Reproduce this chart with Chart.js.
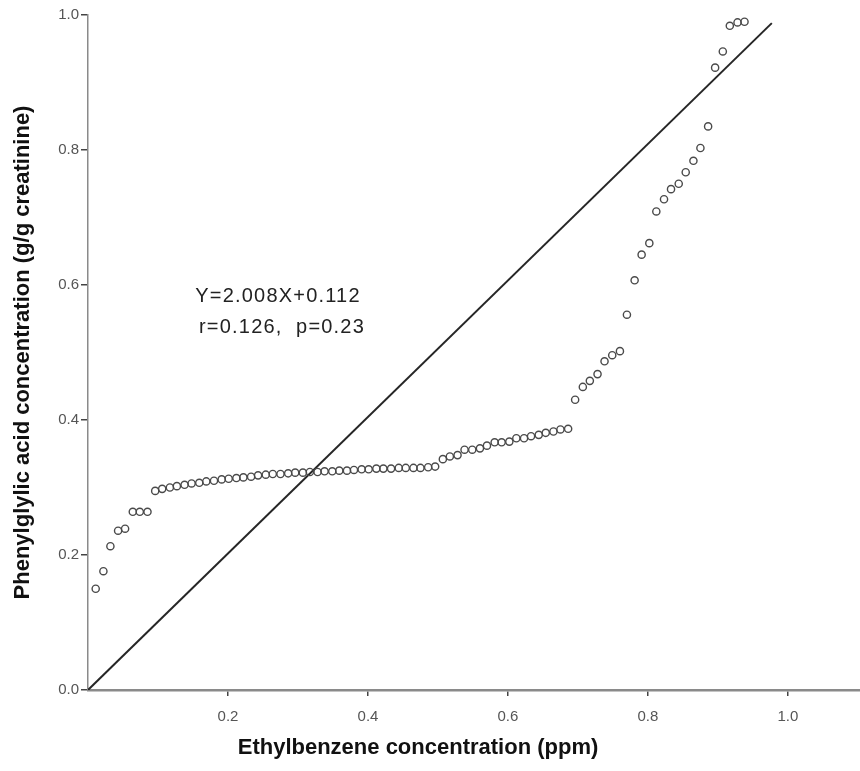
<!DOCTYPE html>
<html><head><meta charset="utf-8">
<script src="https://cdn.jsdelivr.net/npm/chart.js@4/dist/chart.umd.min.js"></script>
<style>html,body{margin:0;padding:0;background:#fff}canvas{display:block}</style>
</head><body>
<canvas id="c" width="860" height="771"></canvas>
<script>
// Ethylbenzene concentration (ppm) for each observation
const ethylbenzene = [0.011,0.022,0.032,0.043,0.053,0.064,0.074,0.085,0.096,0.106,
  0.117,0.127,0.138,0.148,0.159,0.169,0.180,0.191,0.201,0.212,
  0.222,0.233,0.243,0.254,0.264,0.275,0.286,0.296,0.307,0.317,
  0.328,0.338,0.349,0.359,0.370,0.380,0.391,0.401,0.412,0.422,
  0.433,0.444,0.454,0.465,0.475,0.486,0.496,0.507,0.517,0.528,
  0.538,0.549,0.560,0.570,0.581,0.591,0.602,0.612,0.623,0.633,
  0.644,0.654,0.665,0.675,0.686,0.696,0.707,0.717,0.728,0.738,
  0.749,0.760,0.770,0.781,0.791,0.802,0.812,0.823,0.833,0.844,
  0.854,0.865,0.875,0.886,0.896,0.907,0.917,0.928,0.938];
// Phenylglylic acid concentration (g/g creatinine)
const phenylglylic = [0.150,0.176,0.213,0.236,0.239,0.264,0.264,0.264,0.295,0.298,
  0.300,0.302,0.304,0.306,0.307,0.309,0.310,0.312,0.313,0.314,
  0.315,0.316,0.318,0.319,0.320,0.320,0.321,0.322,0.322,0.323,
  0.323,0.324,0.324,0.325,0.325,0.326,0.327,0.327,0.328,0.328,
  0.328,0.329,0.329,0.329,0.329,0.330,0.331,0.342,0.346,0.348,
  0.356,0.356,0.358,0.362,0.367,0.367,0.368,0.373,0.373,0.376,
  0.378,0.381,0.383,0.386,0.387,0.430,0.449,0.458,0.468,0.487,
  0.496,0.502,0.556,0.607,0.645,0.662,0.709,0.727,0.742,0.750,
  0.767,0.784,0.803,0.835,0.922,0.946,0.984,0.989,0.990];
// Reference line end points
const lineX = [0, 0.977];
const lineY = [0, 0.988];
// Tick labels
const xTicks = [0.2, 0.4, 0.6, 0.8, 1.0];
const yTicks = [0.0, 0.2, 0.4, 0.6, 0.8, 1.0];
const xTitle = 'Ethylbenzene concentration (ppm)';
const yTitle = 'Phenylglylic acid concentration (g/g creatinine)';
const equationLines = ['Y=2.008X+0.112', 'r=0.126,  p=0.23'];

const FONT = '"Liberation Sans", Arial, sans-serif';

const textPlugin = {
  id: 'texts',
  afterDraw(chart) {
    const ctx = chart.ctx;
    ctx.save();
    ctx.fillStyle = '#222';
    ctx.textAlign = 'center';
    ctx.textBaseline = 'middle';
    ctx.font = '20px ' + FONT;
    try { ctx.letterSpacing = '1.2px'; } catch (e) {}
    ctx.fillText(equationLines[0], 278, 296);
    ctx.fillText(equationLines[1], 282, 327);
    try { ctx.letterSpacing = '0px'; } catch (e) {}
    ctx.font = 'bold 22px ' + FONT;
    ctx.fillStyle = '#111';
    ctx.fillText(xTitle, 418, 748);
    ctx.restore();
  }
};

new Chart(document.getElementById('c'), {
  data: {
    datasets: [
      {
        type: 'scatter',
        data: ethylbenzene.map((x, i) => ({x, y: phenylglylic[i]})),
        pointStyle: 'circle',
        pointRadius: 3.6,
        pointBorderWidth: 1.4,
        borderColor: '#4a4a4a',
        backgroundColor: 'rgba(255,255,255,0)',
        pointHoverRadius: 3.6
      },
      {
        type: 'line',
        data: lineX.map((x, i) => ({x, y: lineY[i]})),
        borderColor: '#262626',
        borderWidth: 2,
        pointRadius: 0,
        fill: false
      }
    ]
  },
  options: {
    responsive: false,
    animation: false,
    events: [],
    layout: {autoPadding: false, padding: {top: 15, right: 0, left: 0, bottom: 0}},
    plugins: {legend: {display: false}, tooltip: {enabled: false}},
    scales: {
      x: {
        type: 'linear',
        min: 0, max: 1.103,
        afterBuildTicks: s => { s.ticks = xTicks.map(v => ({value: v})); },
        afterFit: s => { s.height = 81; s.paddingRight = 0; s.paddingLeft = 0; },
        ticks: {
          color: '#555',
          font: {family: FONT, size: 15},
          padding: 12,
          callback: v => v.toFixed(1)
        },
        grid: {drawOnChartArea: false, drawTicks: true, tickLength: 6, color: '#444', lineWidth: 1.5},
        border: {display: true, color: '#8a8a8a', width: 2.5}
      },
      y: {
        type: 'linear',
        min: 0, max: 1,
        afterBuildTicks: s => { s.ticks = yTicks.map(v => ({value: v})); },
        afterFit: s => { s.width = 88; s.paddingTop = 0; s.paddingBottom = 0; },
        ticks: {
          color: '#555',
          font: {family: FONT, size: 15},
          padding: 2,
          callback: v => v.toFixed(1)
        },
        grid: {drawOnChartArea: false, drawTicks: true, tickLength: 7, color: '#444', lineWidth: 1.5},
        border: {display: true, color: '#8a8a8a', width: 1.5},
        title: {
          display: true,
          text: yTitle,
          color: '#111',
          font: {family: FONT, size: 22, weight: 'bold'},
          padding: {top: 10, bottom: 0}
        }
      }
    }
  },
  plugins: [textPlugin]
});
</script>
</body></html>
